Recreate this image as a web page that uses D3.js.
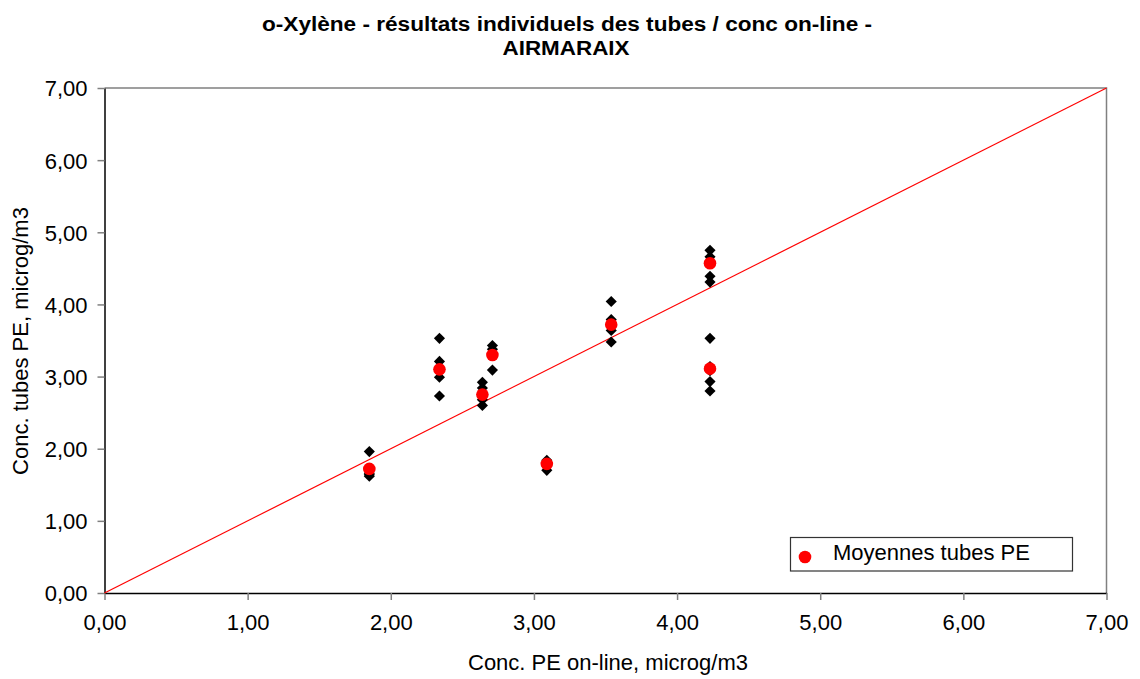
<!DOCTYPE html>
<html>
<head>
<meta charset="utf-8">
<script src="https://cdn.jsdelivr.net/npm/d3@7"></script>
<style>
  html, body { margin: 0; padding: 0; background: #fff; }
  svg { display: block; font-family: "Liberation Sans", Arial, sans-serif; }
</style>
</head>
<body>
<svg id="chart" width="1140" height="679"></svg>
<script>
// On-line reference concentration of each exposure (µg/m3)
const onlineConc = [1.85, 2.34, 2.64, 2.71, 3.09, 3.54, 4.23, 4.23];
// Individual passive tube results for each exposure (µg/m3)
const tubeValues = [
  [1.96, 1.66, 1.64, 1.62],
  [3.53, 3.21, 3.10, 2.99, 2.73],
  [2.92, 2.84, 2.76, 2.68, 2.60],
  [3.43, 3.38, 3.30, 3.09],
  [1.84, 1.80, 1.76, 1.70],
  [4.04, 3.79, 3.74, 3.64, 3.48],
  [4.75, 4.66, 4.60, 4.39, 4.31],
  [3.53, 3.14, 3.08, 2.93, 2.80]
];
// Mean of the tubes for each exposure
const meanTubes = [1.72, 3.10, 2.75, 3.30, 1.79, 3.72, 4.57, 3.11];
// Axis ticks
const tickValues = [0, 1, 2, 3, 4, 5, 6, 7];

const titleLines = ["o-Xylène - résultats individuels des tubes / conc on-line -", "AIRMARAIX"];
const xLabel = "Conc. PE on-line, microg/m3";
const yLabel = "Conc. tubes PE, microg/m3";
const legendLabel = "Moyennes tubes PE";

const svg = d3.select("#chart");
const plot = { left: 104.5, right: 1106.5, top: 88, bottom: 593 };

const x = d3.scaleLinear().domain([0, 7]).range([plot.left, plot.right]);
const y = d3.scaleLinear().domain([0, 7]).range([plot.bottom, plot.top]);

const fr = d3.formatLocale({ decimal: ",", thousands: " ", grouping: [3], currency: ["", ""] });
const fmt = fr.format(".2f");

// Title
const title = svg.append("g").attr("font-weight", "bold").attr("font-size", 20).attr("text-anchor", "middle");
title.append("text").attr("x", 567).attr("y", 31).attr("textLength", 610).attr("lengthAdjust", "spacingAndGlyphs").text(titleLines[0]);
title.append("text").attr("x", 566).attr("y", 55).attr("textLength", 127).attr("lengthAdjust", "spacingAndGlyphs").text(titleLines[1]);

// Plot frame: grey top/right borders
svg.append("path")
  .attr("d", `M${plot.left},${plot.top}H${plot.right}V${plot.bottom}`)
  .attr("fill", "none").attr("stroke", "#808080").attr("stroke-width", 1.5);

// Axes
const xAxis = svg.append("g")
  .attr("transform", `translate(0,${plot.bottom})`)
  .call(d3.axisBottom(x).tickValues(tickValues).tickFormat(fmt).tickSizeOuter(0).tickSizeInner(7).tickPadding(14));
const yAxis = svg.append("g")
  .attr("transform", `translate(${plot.left},0)`)
  .call(d3.axisLeft(y).tickValues(tickValues).tickFormat(fmt).tickSizeOuter(0).tickSizeInner(7).tickPadding(10));

[xAxis, yAxis].forEach(a => {
  a.select(".domain").attr("stroke", "#000").attr("stroke-width", 1.5);
  a.selectAll(".tick line").attr("stroke", "#808080").attr("stroke-width", 1.5);
  a.selectAll(".tick text").attr("fill", "#000").attr("font-size", 22)
    .attr("font-family", "'Liberation Sans', Arial, sans-serif");
});
yAxis.selectAll(".tick text").attr("dy", "0.36em");

// Axis titles
svg.append("text").attr("x", 608).attr("y", 670).attr("text-anchor", "middle")
  .attr("font-size", 22).text(xLabel);
svg.append("text").attr("transform", "translate(28,341) rotate(-90)").attr("text-anchor", "middle")
  .attr("font-size", 22).text(yLabel);

// y = x reference line
svg.append("line")
  .attr("x1", x(0)).attr("y1", y(0)).attr("x2", x(7)).attr("y2", y(7))
  .attr("stroke", "#ff0000").attr("stroke-width", 1.2);

// Individual tubes (black diamonds)
const tubes = onlineConc.flatMap((c, i) => tubeValues[i].map(v => ({ c, v })));
const diamond = d3.symbol(d3.symbolSquare, 62)();
svg.append("g").selectAll("path").data(tubes).join("path")
  .attr("d", diamond)
  .attr("transform", d => `translate(${x(d.c)},${y(d.v)}) rotate(45)`)
  .attr("fill", "#000");

// Tube means (red dots)
svg.append("g").selectAll("circle").data(onlineConc.map((c, i) => ({ c, v: meanTubes[i] }))).join("circle")
  .attr("cx", d => x(d.c)).attr("cy", d => y(d.v)).attr("r", 6.3)
  .attr("fill", "#ff0000");

// Legend
const lg = svg.append("g");
lg.append("rect").attr("x", 790.5).attr("y", 537.5).attr("width", 282).attr("height", 33.5)
  .attr("fill", "#fff").attr("stroke", "#333").attr("stroke-width", 1.2);
lg.append("circle").attr("cx", 805).attr("cy", 557).attr("r", 6.3).attr("fill", "#ff0000");
lg.append("text").attr("x", 833).attr("y", 559.5).attr("font-size", 22).text(legendLabel);
</script>
</body>
</html>
